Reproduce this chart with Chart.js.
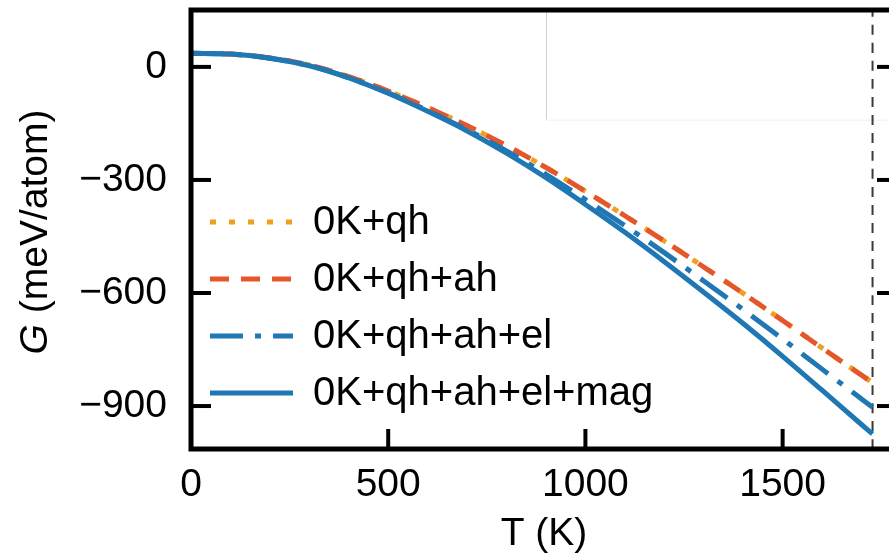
<!DOCTYPE html>
<html>
<head>
<meta charset="utf-8">
<script src="https://cdn.jsdelivr.net/npm/chart.js@4.4.1/dist/chart.umd.min.js"></script>
<style>
  html, body { margin: 0; padding: 0; background: #fff; overflow: hidden; }
  #wrap { width: 920px; height: 553px; }
</style>
</head>
<body>
<div id="wrap"><canvas id="gibbsChart" width="920" height="553"></canvas></div>
<script>
// temperature grid (K)
const temps = [0, 100, 200, 300, 400, 500, 600, 700, 800, 900, 1000, 1100, 1200, 1300, 1400, 1500, 1600, 1700, 1728];
// free energy G (meV/atom)
const gQh    = [36, 34, 24, 5, -26, -64, -108, -156, -209, -267, -330, -395, -462, -531, -601, -673, -746, -818, -838];
const gQhAh  = [36, 34, 24, 5, -26, -64, -108, -156, -209, -267, -330, -395, -462, -531, -601, -673, -746, -818, -838];
const gQhAhEl = [36, 34, 23, 3, -29, -69, -116, -167, -223, -285, -352, -421, -493, -568, -644, -722, -802, -881, -903];
const gQhAhElMag = [36, 34, 23, 3, -29, -70, -118, -170, -229, -294, -365, -439, -517, -598, -681, -768, -858, -949, -974];
const seriesLabels = ['0K+qh', '0K+qh+ah', '0K+qh+ah+el', '0K+qh+ah+el+mag'];
const meltingT = 1728;
const xTicks = [0, 500, 1000, 1500];
const yTicks = [0, -300, -600, -900];
const xRange = [0, 1790];
const yRange = [-1014, 151];

const FONT = '"Liberation Sans", Arial, sans-serif';

function toPoints(ys) {
    return temps.map(function (t, i) { return { x: t, y: ys[i] }; });
}

const chartCanvas = document.querySelector('#gibbsChart');

const frameAndLegend = {
    id: 'frameAndLegend',
    beforeDatasetsDraw(chart) {
        // faint outline left behind by an inset box
        const ctx = chart.ctx, a = chart.chartArea;
        const x = chart.scales.x, y = chart.scales.y;
        const bx = x.getPixelForValue(900), by = y.getPixelForValue(-140);
        ctx.save();
        ctx.lineWidth = 1;
        ctx.strokeStyle = '#cfcfcf';
        ctx.beginPath(); ctx.moveTo(bx + 0.5, a.top); ctx.lineTo(bx + 0.5, by); ctx.stroke();
        ctx.strokeStyle = '#f2f2f2';
        ctx.beginPath(); ctx.moveTo(bx, by + 0.5); ctx.lineTo(a.right, by + 0.5); ctx.stroke();
        ctx.restore();
    },
    afterDraw(chart) {
        const ctx = chart.ctx, a = chart.chartArea;
        const x = chart.scales.x, y = chart.scales.y;
        ctx.save();
        ctx.strokeStyle = '#000';
        ctx.lineWidth = 4;
        ctx.setLineDash([]);
        function seg(x1, y1, x2, y2) { ctx.beginPath(); ctx.moveTo(x1, y1); ctx.lineTo(x2, y2); ctx.stroke(); }
        yTicks.forEach(function (v) {
            const py = y.getPixelForValue(v);
            seg(a.left, py, a.left + 20, py);
            seg(a.right - 20, py, a.right, py);
        });
        xTicks.forEach(function (v) {
            const px = x.getPixelForValue(v);
            seg(px, a.bottom, px, a.bottom - 20);
        });
        ctx.lineWidth = 5;
        ctx.strokeRect(a.left, a.top, a.right - a.left, a.bottom - a.top);

        // legend
        const rows = [222, 279, 336, 393];
        seriesLabels.forEach(function (label, i) {
            const ds = chart.data.datasets.find(function (d) { return d.label === label; });
            ctx.strokeStyle = ds.borderColor;
            ctx.lineWidth = ds.borderWidth;
            ctx.setLineDash(ds.borderDash || []);
            seg(210, rows[i], 293, rows[i]);
            ctx.setLineDash([]);
            ctx.fillStyle = '#000';
            ctx.font = '40px ' + FONT;
            ctx.textAlign = 'left';
            ctx.textBaseline = 'middle';
            ctx.fillText(label, 313, rows[i] + 1);
        });

        // y title with italic G
        ctx.translate(36, 232);
        ctx.rotate(-Math.PI / 2);
        ctx.textBaseline = 'middle';
        ctx.font = 'italic 39px ' + FONT;
        const w1 = ctx.measureText('G').width;
        ctx.font = '39px ' + FONT;
        const rest = ' (meV/atom)';
        const w2 = ctx.measureText(rest).width;
        const start = -(w1 + w2) / 2;
        ctx.textAlign = 'left';
        ctx.font = 'italic 39px ' + FONT;
        ctx.fillText('G', start, 0);
        ctx.font = '39px ' + FONT;
        ctx.fillText(rest, start + w1, 0);
        ctx.restore();
    }
};

new Chart(chartCanvas, {
    type: 'line',
    data: {
        datasets: [
            {
                label: seriesLabels[3],
                data: toPoints(gQhAhElMag),
                borderColor: '#1f77b4',
                borderWidth: 5,
                order: 0
            },
            {
                label: seriesLabels[2],
                data: toPoints(gQhAhEl),
                borderColor: '#1f77b4',
                borderWidth: 5,
                borderDash: [33, 12, 6, 12],
                order: 1
            },
            {
                label: seriesLabels[1],
                data: toPoints(gQhAh),
                borderColor: '#e4572a',
                borderWidth: 5,
                borderDash: [19, 12],
                order: 2
            },
            {
                label: seriesLabels[0],
                data: toPoints(gQh),
                borderColor: '#f0a01e',
                borderWidth: 5,
                borderDash: [6, 13],
                order: 3
            },
            {
                label: 'Tm',
                data: [{ x: meltingT, y: yRange[0] }, { x: meltingT, y: yRange[1] }],
                borderColor: '#3a3a3a',
                borderWidth: 2,
                borderDash: [10, 8],
                order: 4
            }
        ]
    },
    options: {
        responsive: false,
        animation: false,
        devicePixelRatio: 1,
        layout: { padding: { left: 0, top: 10, right: 23, bottom: 0 } },
        elements: {
            point: { radius: 0 },
            line: { cubicInterpolationMode: 'monotone', fill: false }
        },
        plugins: {
            legend: { display: false },
            tooltip: { enabled: false }
        },
        scales: {
            x: {
                type: 'linear',
                min: xRange[0],
                max: xRange[1],
                afterBuildTicks: function (s) { s.ticks = xTicks.map(function (v) { return { value: v }; }); },
                afterFit: function (s) { s.height = 104; s.paddingLeft = 0; s.paddingRight = 0; },
                grid: { display: false, drawTicks: false },
                border: { display: false },
                ticks: {
                    color: '#000',
                    font: { family: FONT, size: 39 },
                    padding: 13,
                    maxRotation: 0,
                    callback: function (v) { return String(v); }
                },
                title: {
                    display: true,
                    text: 'T (K)',
                    color: '#000',
                    font: { family: FONT, size: 39 },
                    padding: { top: 0, bottom: -5 }
                }
            },
            y: {
                type: 'linear',
                min: yRange[0],
                max: yRange[1],
                afterBuildTicks: function (s) { s.ticks = yTicks.map(function (v) { return { value: v }; }); },
                afterFit: function (s) { s.width = 191; s.paddingTop = 0; s.paddingBottom = 0; },
                grid: { display: false, drawTicks: false },
                border: { display: false },
                ticks: {
                    color: '#000',
                    font: { family: FONT, size: 39 },
                    padding: 24,
                    callback: function (v) { return v < 0 ? '\u2212' + Math.abs(v) : String(v); }
                }
            }
        }
    },
    plugins: [frameAndLegend]
});
</script>
</body>
</html>
